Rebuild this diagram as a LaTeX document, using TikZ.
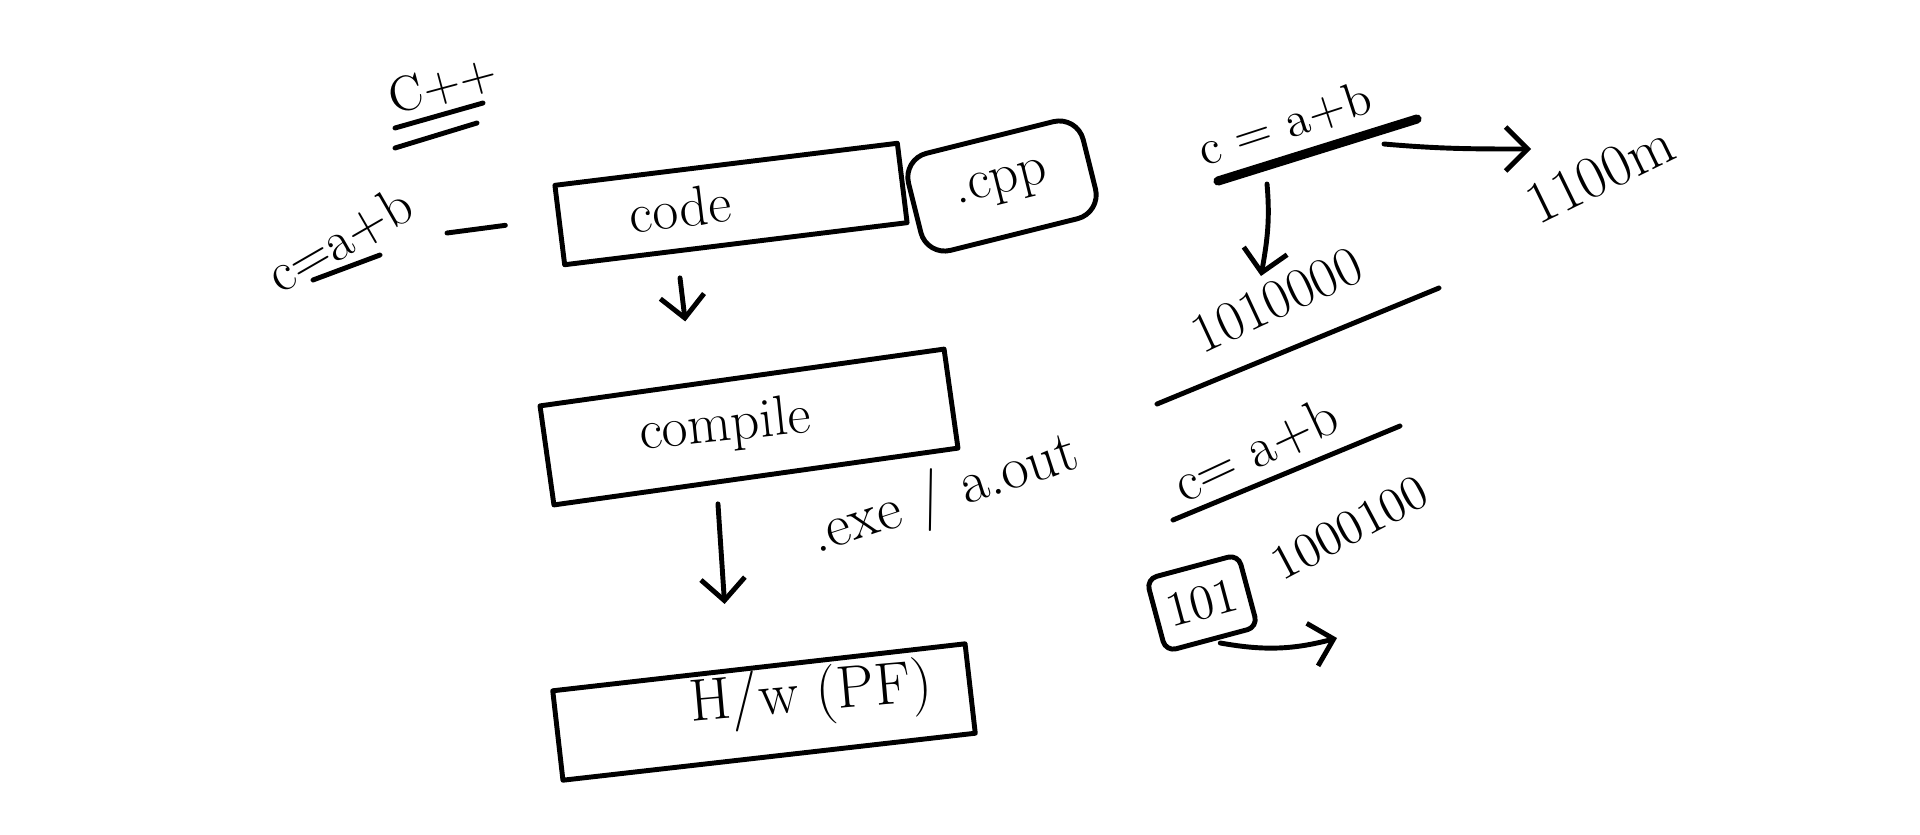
\documentclass[tikz,border=0pt]{standalone}
\usetikzlibrary{arrows.meta}
\newcommand\hand{\fontsize{16}{19}\selectfont}
\newcommand\handsm{\fontsize{14}{17}\selectfont}
\newcommand\handbig{\fontsize{17}{20}\selectfont}

\begin{document}
\begin{tikzpicture}[
    ink/.style={line width=1.4pt, line cap=round, line join=round},
    box/.style={ink, draw, inner sep=0pt},
    note/.style={inner sep=0pt, font=\hand},
    arr/.style={ink, -{Straight Barb[length=2.2mm,width=4.4mm]}}
  ]
    \useasboundingbox (0,0) rectangle (19.2,-8.34);

    % left notes
    \node[note, font=\handsm, rotate=15] (lang) at (4.43,-0.85) {C++};
    \draw[ink] (3.95,-1.28) -- (4.83,-1.03);
    \draw[ink] (3.95,-1.48) -- (4.77,-1.23);
    \node[note, rotate=30] (stmt) at (3.40,-2.40) {c=a+b};
    \draw[ink] (3.13,-2.80) -- (3.80,-2.55);

    % boxes
    \node[box, rotate=7, minimum width=3.45cm, minimum height=0.8cm] (code) at (7.31,-2.04) {};
    \node[note, rotate=7] (codetxt) at ([shift={(-0.51,-0.04)}]code.center) {code};
    \node[box, font=\hand, rotate=14, rounded corners=7pt, minimum width=1.8cm, minimum height=1.0cm] (ext) at (10.02,-1.86) {.cpp};
    \node[box, rotate=8, minimum width=4.08cm, minimum height=1.0cm] (compile) at (7.49,-4.27) {};
    \node[note, rotate=6] (comptxt) at ([xshift=-2.4mm]compile.center) {compile};
    \node[box, rotate=6.5, minimum width=4.15cm, minimum height=0.9cm] (hw) at (7.64,-7.12) {};
    \node[note, font=\handbig, rotate=5] (hwtxt) at ([shift={(0.47,0.16)}]hw.center) {H/w (PF)};
    \node[note, font=\handbig, rotate=18] (exe) at (9.45,-4.96) {.exe / a.out};

    \draw[ink] ([xshift=-5.2mm]code.west) -- ([shift={(1.07,0.07)}]stmt.center);
    \draw[arr, shorten <=3.2mm, shorten >=5.4mm] ([xshift=-6mm]code.south) -- ([xshift=-5mm]compile.north);
    \draw[arr, shorten <=2.5mm, shorten >=6.1mm] ([xshift=-4mm]compile.south) -- ([xshift=-3mm]hw.north);

    % right notes
    \node[note, font=\handsm, rotate=18] (sum) at (12.85,-1.24) {c = a+b};
    \draw[ink, line width=2.6pt] (12.18,-1.81) -- (14.17,-1.19);
    \node[note, font=\handbig, rotate=26] (bin) at (16.00,-1.74) {1100m};
    \node[note, rotate=25] (mach) at (12.77,-3.00) {1010000};
    \draw[arr] ([shift={(0.99,-0.20)}]sum.center) to[out=-5,in=180] ([shift={(-0.69,0.25)}]bin.center);
    \draw[arr] ([shift={(-0.18,-0.60)}]sum.center) to[out=-85,in=80] ([shift={(-0.16,0.24)}]mach.center);
    \draw[ink] (11.57,-4.04) -- (14.39,-2.88);

    \node[note, rotate=25] (sum2) at (12.56,-4.50) {c= a+b};
    \draw[ink] (11.73,-5.20) -- (14.00,-4.26);
    \node[box, font=\handsm, rotate=15, rounded corners=3pt, minimum width=0.95cm, minimum height=0.75cm] (reg) at (12.02,-6.03) {101};
    \node[note, font=\handsm, rotate=28] (rest) at (13.50,-5.28) {1000100};
    \coordinate (nxt) at (13.37,-6.38);
    \draw[arr, shorten <=0.8mm] (reg.south) to[out=-10,in=195] (nxt);
\end{tikzpicture}
\end{document}
